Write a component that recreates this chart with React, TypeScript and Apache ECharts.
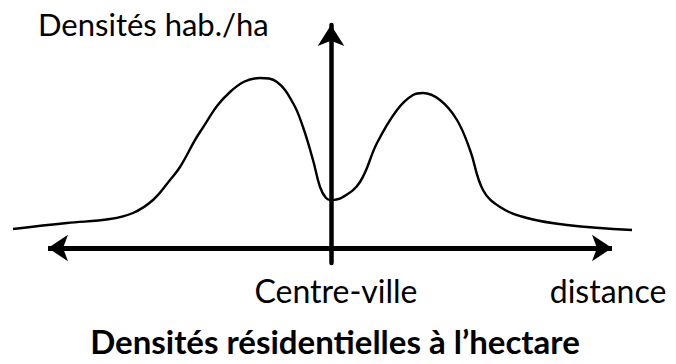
import React, { useEffect, useRef } from "react";
import * as echarts from "echarts";

// Distance from the city centre (arbitrary units, negative = one side)
const distances: number[] = [
  -31.8, -26.4, -22.1, -19.8, -17.8, -16.1, -15.1, -13.1, -10.1, -7.1, -5.4, -3.8, -2.8, -1.8, -1.1, -0.5, 0,
  1.2, 2.9, 4.6, 6.6, 8.2, 9.2, 10.9, 12.6, 13.9, 15.2, 16.9, 19.6, 23.6, 30.1,
];
// Residential density (arbitrary units)
const densities: number[] = [
  9.5, 12.5, 14.5, 17.5, 24, 34, 40.5, 58, 78, 85, 83, 72.5, 60.5, 44, 30.5, 25, 24,
  25.5, 33, 52.5, 69, 76.5, 77.5, 74, 64, 49, 29, 20.5, 15, 11.5, 9,
];
// Extent of the drawn distance axis (both directions)
const axisExtent: number[] = [-28.3, 28.1];

const yAxisLabel = "Densités hab./ha";
const centreLabel = "Centre-ville";
const xAxisLabel = "distance";
const chartTitle = "Densités résidentielles à l’hectare";

const X_MIN = -31.8;
const X_MAX = 30.2;
const Y_MIN = -7.5;
const Y_MAX = 111.5;

export default function App() {
  const ref = useRef<HTMLDivElement>(null);
  useEffect(() => {
    if (!ref.current) return;
    const chart = echarts.init(ref.current, null, { renderer: "svg" });
    const font = "Lato, 'Open Sans', sans-serif";
    chart.setOption({
      animation: false,
      backgroundColor: "#ffffff",
      grid: { left: 13, right: 43, top: 25, bottom: 101 },
      xAxis: {
        type: "value",
        min: X_MIN,
        max: X_MAX,
        axisLine: { show: false },
        axisTick: { show: false },
        axisLabel: { show: false },
        splitLine: { show: false },
      },
      yAxis: {
        type: "value",
        min: Y_MIN,
        max: Y_MAX,
        axisLine: {
          show: true,
          onZero: true,
          symbol: ["none", "arrow"],
          symbolSize: [20, 21],
          lineStyle: { color: "#000", width: 4.5 },
        },
        axisTick: { show: false },
        axisLabel: { show: false },
        splitLine: { show: false },
      },
      series: [
        {
          type: "line",
          data: distances.map((d, i) => [d, densities[i]]),
          smooth: 0.4,
          showSymbol: false,
          clip: false,
          z: 1,
          lineStyle: { color: "#000", width: 2.4 },
          markLine: {
            silent: true,
            symbol: ["arrow", "arrow"],
            symbolSize: 20,
            label: { show: false },
            emphasis: { disabled: true },
            lineStyle: { color: "#000", width: 4.8, type: "solid" },
            data: [[{ coord: [axisExtent[0], 0] }, { coord: [axisExtent[1], 0] }]],
          },
        },
      ],
      graphic: [
        {
          type: "text",
          x: 38,
          y: 24,
          style: {
            text: yAxisLabel,
            font: `31px ${font}`,
            fill: "#000",
            align: "left",
            verticalAlign: "middle",
          },
        },
        {
          type: "text",
          x: 336,
          y: 290,
          style: {
            text: centreLabel,
            font: `32px ${font}`,
            fill: "#000",
            align: "center",
            verticalAlign: "middle",
          },
        },
        {
          type: "text",
          x: 608,
          y: 290,
          style: {
            text: xAxisLabel,
            font: `32px ${font}`,
            fill: "#000",
            align: "center",
            verticalAlign: "middle",
          },
        },
        {
          type: "text",
          x: 335,
          y: 341,
          style: {
            text: chartTitle,
            font: `bold 33px ${font}`,
            fill: "#000",
            align: "center",
            verticalAlign: "middle",
          },
        },
      ],
    });
    return () => chart.dispose();
  }, []);
  return (
    <div
      ref={ref}
      style={{ position: "fixed", left: 0, top: 0, width: 676, height: 364 }}
    />
  );
}
